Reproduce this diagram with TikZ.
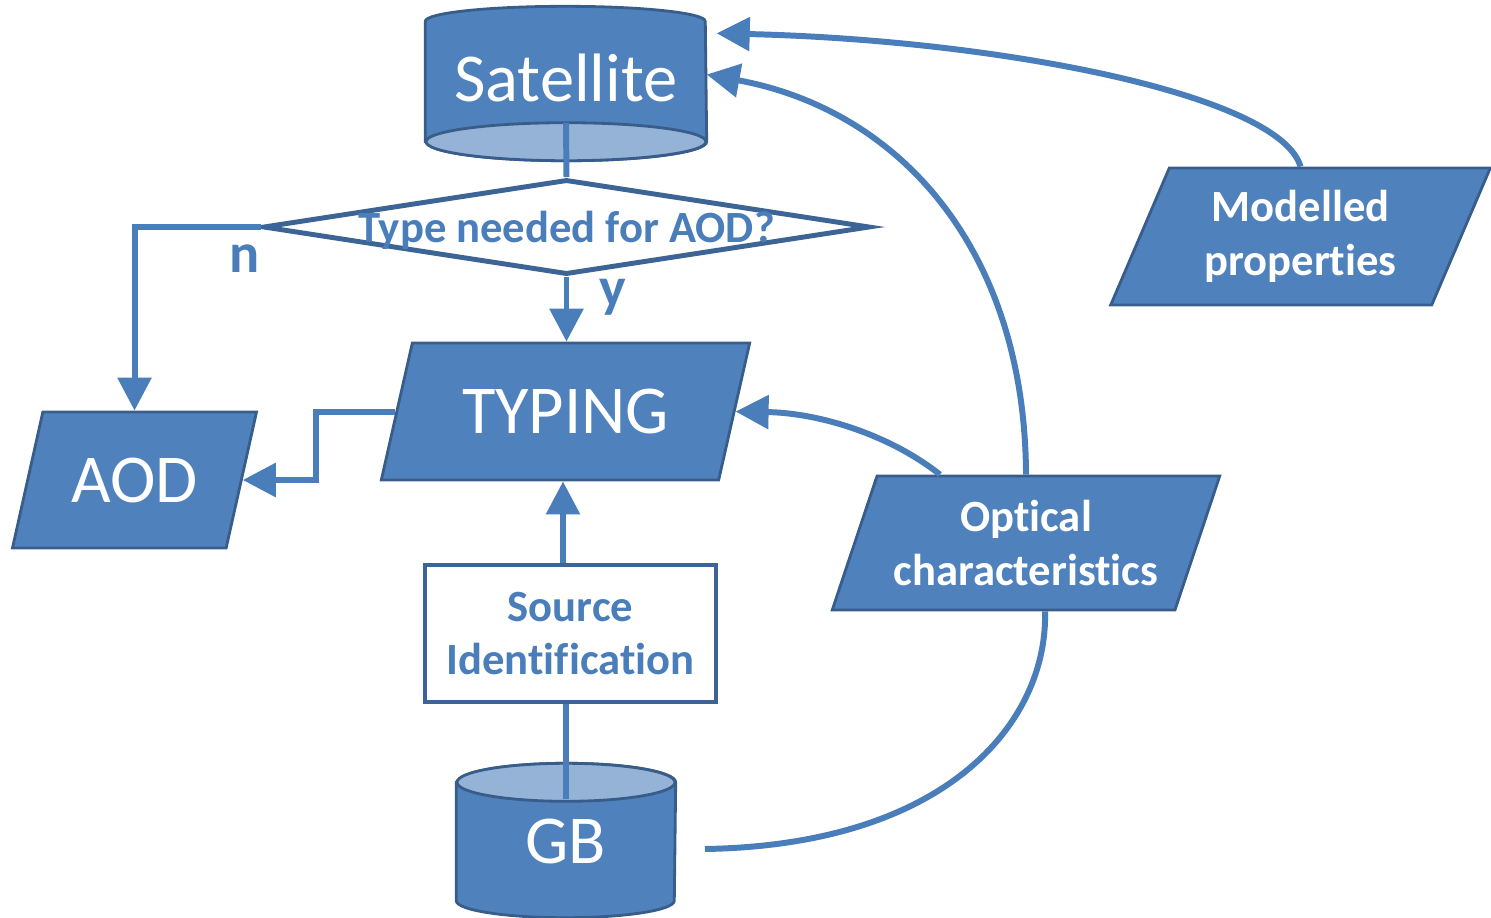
\documentclass[tikz,border=0pt]{standalone}
\usepackage{fontspec}
\setmainfont{Carlito}[Ligatures={NoCommon,NoContextual}]
\usetikzlibrary{shapes.geometric,arrows.meta,backgrounds,calc}

\definecolor{fillblue}{HTML}{4F81BD}
\definecolor{edgeblue}{HTML}{385D8A}
\definecolor{lightblue}{HTML}{95B3D7}
\definecolor{lineblue}{HTML}{4A7EBB}
\definecolor{darkblue}{HTML}{3C6494}

\tikzset{
  bigtext/.style={font=\fontsize{19.5}{23}\selectfont},
  smalltext/.style={font=\fontsize{12.7}{15.3}\selectfont\bfseries, align=center},
  data/.style={trapezium, trapezium left angle=65, trapezium right angle=115,
    trapezium stretches=true, fill=fillblue, draw=edgeblue, line width=0.8pt,
    text=white, inner sep=0pt},
  can/.style={inner sep=0pt, text=white, bigtext},
  canbody/.style={fill=fillblue, draw=edgeblue, line width=0.8pt},
  canface/.style={fill=lightblue, draw=edgeblue, line width=0.8pt},
  decision/.style={diamond, draw=darkblue, line width=1.4pt, fill=white,
    minimum width=6.07cm, minimum height=0.95cm, inner sep=0pt, text=lineblue,
    font=\fontsize{12.7}{15.3}\selectfont\bfseries},
  process/.style={rectangle, draw=darkblue, line width=1.3pt, fill=white,
    text=lineblue, smalltext},
  link/.style={draw=lineblue, line width=1.7pt},
  answer/.style={text=lineblue, font=\fontsize{16}{19}\selectfont\bfseries},
}

\begin{document}
\begin{tikzpicture}[>={Triangle[length=0.33cm, width=0.33cm]}]

\useasboundingbox (0,0) rectangle (14.91,-9.17);

\node[can, minimum width=2.8cm, minimum height=1.19cm] (sat) at (5.66,-0.815) {\raisebox{0.07cm}{Satellite}};
\node[can, minimum width=2.18cm, minimum height=1.17cm] (gb) at (5.66,-8.415) {\raisebox{-0.1cm}{GB}};

\begin{scope}[on background layer]
\path[canbody] (sat.south west) -- (sat.north west)
  arc[start angle=180, end angle=0, x radius=1.4cm, y radius=0.15cm]
  -- (sat.south east)
  arc[start angle=0, end angle=-180, x radius=1.4cm, y radius=0.19cm] -- cycle;
\path[canface] (sat.south) ellipse [x radius=1.4cm, y radius=0.19cm];
\path[canbody] (gb.north west) -- (gb.south west)
  arc[start angle=180, end angle=360, x radius=1.09cm, y radius=0.17cm]
  -- (gb.north east)
  arc[start angle=0, end angle=180, x radius=1.09cm, y radius=0.19cm] -- cycle;
\path[canface] (gb.north) ellipse [x radius=1.09cm, y radius=0.19cm];
\end{scope}

\node[decision] (need) at (5.665,-2.27)
  {\makebox[0pt]{\raisebox{-0.15cm}[0pt][0pt]{Type needed for AOD?}}};

\node[data, bigtext, minimum width=3.69cm, minimum height=1.37cm] (typing) at (5.655,-4.115) {TYPING};
\node[data, bigtext, minimum width=2.45cm, minimum height=1.36cm] (aod) at (1.345,-4.80) {AOD};
\node[process, minimum width=2.91cm, minimum height=1.37cm] (src) at (5.705,-6.335) {Source\\Identification};
\node[data, smalltext, minimum width=3.81cm, minimum height=1.37cm] (model) at (13.005,-2.365) {Modelled\\properties};
\node[data, smalltext, minimum width=3.88cm, minimum height=1.34cm] (optic) at (10.26,-5.43) {Optical\\characteristics};

\node[answer] (no) at (2.45,-2.59) {n};
\node[answer] (yes) at (6.13,-2.97) {y};

\coordinate (gbout) at (7.05,-8.49);

\draw[link] ($(sat.south)+(0,0.19)$) -- (need.north);
\draw[link,->] (need.west) -| (aod);
\draw[link,->] (need.south) -- (need.south |- typing.north);
\draw[link,->] (typing.west) -- ++(-0.79,0) |- (aod.east);
\draw[link,->] (5.63,0 |- src.north) -- (5.63,0 |- typing.south);
\draw[link] ($(gb.north)+(0,-0.17)$) -- (gb.north |- src.south);

\draw[link,->] ($(optic.north)+(-0.86,0)$) .. controls (8.9,-4.35) and (8.2,-4.13) .. (typing.east);
\draw[link,->] (optic.north) .. controls (10.25,-2.5) and (9.0,-1.1) .. ($(sat.east)+(0,0.07)$);
\draw[link,->] (model.north) .. controls (12.8,-0.95) and (10.0,-0.4) .. ($(sat.north east)+(0.1,-0.12)$);
\draw[link] (gbout) .. controls (9.5,-8.45) and (10.48,-7.2) .. ($(optic.south)+(0.19,0)$);

\end{tikzpicture}
\end{document}
